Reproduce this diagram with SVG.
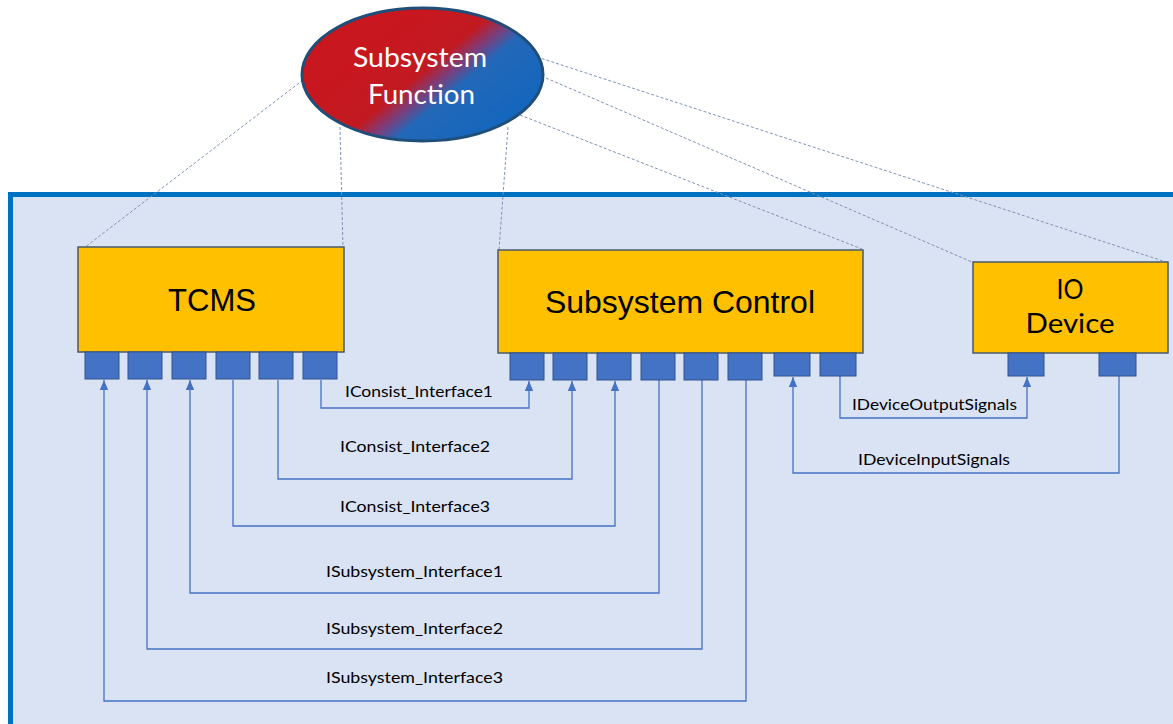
<svg xmlns="http://www.w3.org/2000/svg" width="1173" height="724" viewBox="0 0 1173 724">
<style>
.box{fill:#FFC000;stroke:#4A5A6E;stroke-width:1.5}
.port{fill:#4472C4;stroke:#2F528F;stroke-width:1}
.conn{fill:none;stroke:#4472C4;stroke-width:1.3}
.dash{fill:none;stroke:#7F93B5;stroke-width:1;stroke-dasharray:3 2}
.big{font-family:"Liberation Sans",Arial,sans-serif;font-size:31px;fill:#000;text-anchor:middle}
.cal{font-family:Lato,"Open Sans",sans-serif;fill:#000;text-anchor:middle}
.lbl{font-family:Lato,"Open Sans",sans-serif;font-size:16px;fill:#000;text-anchor:middle}
</style>
<defs>
<linearGradient id="rb" gradientUnits="userSpaceOnUse" x1="395" y1="22" x2="485" y2="130">
<stop offset="0" stop-color="#C8171E"/>
<stop offset="0.4" stop-color="#C21A22"/>
<stop offset="0.52" stop-color="#7E3C78"/>
<stop offset="0.64" stop-color="#2468B8"/>
<stop offset="1" stop-color="#1566BD"/>
</linearGradient>
<marker id="ah" markerUnits="userSpaceOnUse" markerWidth="10" markerHeight="10" viewBox="0 0 10 10" refX="10" refY="5" orient="auto">
<path d="M0,0.8 L10,5 L0,9.2 z" fill="#4472C4"/>
</marker>
</defs>
<rect width="1173" height="724" fill="#FFFFFF"/>
<rect id="panel" x="10.5" y="194.5" width="1175" height="540" fill="#DAE3F3" stroke="#0070C0" stroke-width="5"/>

<g id="connectors">
<g id="dashed">
<path class="dash" d="M303,80 L84,248"/>
<path class="dash" d="M340,127 L343,248"/>
<path class="dash" d="M508,127 L499,250"/>
<path class="dash" d="M520,115 L862,249"/>
<path class="dash" d="M546,78 L972,262"/>
<path class="dash" d="M537,57 L1166,262"/>
</g>
<path class="conn" d="M321,380 V408 H529 V381" marker-end="url(#ah)"/>
<path class="conn" d="M278,380 V479 H572 V381" marker-end="url(#ah)"/>
<path class="conn" d="M233,380 V526 H615 V381" marker-end="url(#ah)"/>
<path class="conn" d="M659,380 V593 H190 V380" marker-end="url(#ah)"/>
<path class="conn" d="M702,380 V649 H147 V380" marker-end="url(#ah)"/>
<path class="conn" d="M746,380 V701 H104 V380" marker-end="url(#ah)"/>
<path class="conn" d="M840,376 V418 H1027 V377" marker-end="url(#ah)"/>
<path class="conn" d="M1119,376 V473 H793 V377" marker-end="url(#ah)"/>
<text class="lbl" x="419" y="397" textLength="148" lengthAdjust="spacingAndGlyphs">IConsist_Interface1</text>
<text class="lbl" x="415" y="452" textLength="150" lengthAdjust="spacingAndGlyphs">IConsist_Interface2</text>
<text class="lbl" x="415" y="512" textLength="150" lengthAdjust="spacingAndGlyphs">IConsist_Interface3</text>
<text class="lbl" x="414.5" y="577" textLength="177" lengthAdjust="spacingAndGlyphs">ISubsystem_Interface1</text>
<text class="lbl" x="414.5" y="634" textLength="177" lengthAdjust="spacingAndGlyphs">ISubsystem_Interface2</text>
<text class="lbl" x="414.5" y="683" textLength="177" lengthAdjust="spacingAndGlyphs">ISubsystem_Interface3</text>
<text class="lbl" x="934.5" y="410" textLength="165" lengthAdjust="spacingAndGlyphs">IDeviceOutputSignals</text>
<text class="lbl" x="934" y="465" textLength="152" lengthAdjust="spacingAndGlyphs">IDeviceInputSignals</text>
</g>

<g id="subsystem-function">
<ellipse cx="422.5" cy="74.5" rx="120.5" ry="66.5" fill="url(#rb)" stroke="#1F4E79" stroke-width="3"/>
<text class="cal" x="420" y="67" font-size="27" fill="#FFFFFF" style="fill:#FFFFFF" textLength="134" lengthAdjust="spacingAndGlyphs">Subsystem</text>
<text class="cal" x="421.5" y="104" font-size="27" style="fill:#FFFFFF" textLength="107" lengthAdjust="spacingAndGlyphs">Function</text>
</g>

<g id="tcms">
<rect class="box" x="78" y="247" width="266" height="105"/>
<text class="big" x="212" y="311" textLength="88" lengthAdjust="spacingAndGlyphs">TCMS</text>
<rect class="port" x="85" y="352" width="34" height="27"/>
<rect class="port" x="128" y="352" width="34" height="27"/>
<rect class="port" x="172" y="352" width="34" height="27"/>
<rect class="port" x="216" y="352" width="34" height="27"/>
<rect class="port" x="259" y="352" width="34" height="27"/>
<rect class="port" x="303" y="352" width="34" height="27"/>
</g>

<g id="subsystem-control">
<rect class="box" x="498" y="250" width="365" height="103"/>
<text class="big" x="680" y="313" font-size="32" style="font-size:32px" textLength="270" lengthAdjust="spacingAndGlyphs">Subsystem Control</text>
<rect class="port" x="510" y="353" width="34" height="27"/>
<rect class="port" x="553" y="353" width="34" height="27"/>
<rect class="port" x="597" y="353" width="34" height="27"/>
<rect class="port" x="641" y="353" width="34" height="27"/>
<rect class="port" x="684" y="353" width="34" height="27"/>
<rect class="port" x="728" y="353" width="34" height="27"/>
<rect class="port" x="774" y="353" width="36" height="23"/>
<rect class="port" x="820" y="353" width="36" height="23"/>
</g>

<g id="io-device">
<rect class="box" x="973" y="262" width="195" height="91"/>
<text class="cal" x="1070" y="299" font-size="27" textLength="27" lengthAdjust="spacingAndGlyphs">IO</text>
<text class="cal" x="1070" y="333" font-size="27" textLength="89" lengthAdjust="spacingAndGlyphs">Device</text>
<rect class="port" x="1008" y="353" width="36" height="23"/>
<rect class="port" x="1099" y="353" width="37" height="23"/>
</g>
</svg>
